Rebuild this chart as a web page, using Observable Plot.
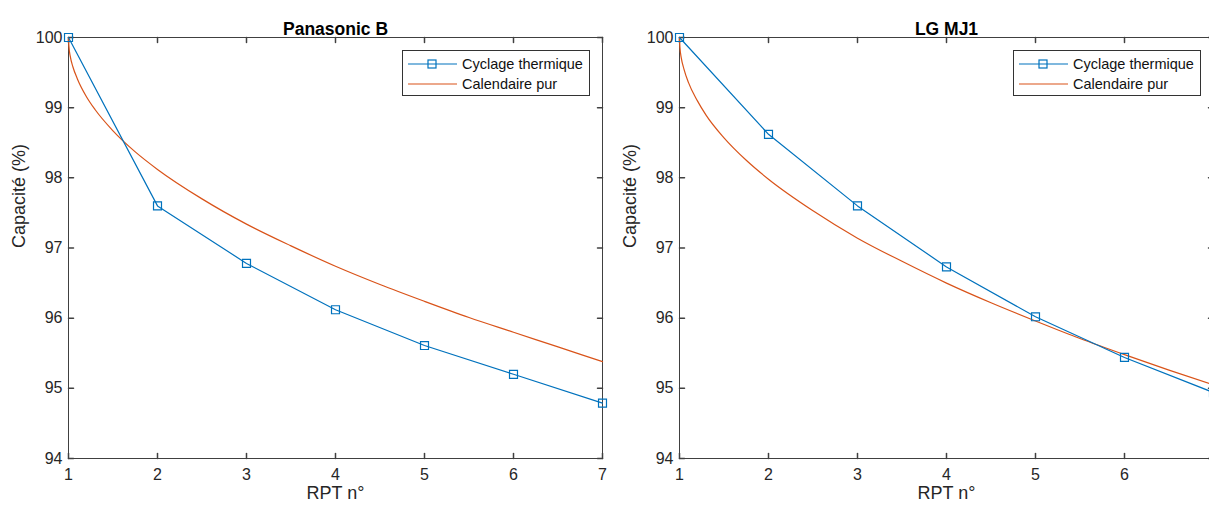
<!DOCTYPE html>
<html>
<head>
<meta charset="utf-8">
<script src="https://cdn.jsdelivr.net/npm/d3@7"></script>
<script src="https://cdn.jsdelivr.net/npm/@observablehq/plot@0.6"></script>
<style>
  html, body { margin: 0; padding: 0; background: #fff; }
  #fig { position: relative; width: 1209px; height: 506px; overflow: hidden; font-family: "Liberation Sans", Arial, Helvetica, sans-serif; }
  .panel { position: absolute; top: 0; }
  .legend { position: absolute; background: #fff; border: 1px solid #333; box-sizing: border-box; font-size: 14.5px; color: #111; }
  .legend .row { position: absolute; left: 0; height: 20px; display: flex; align-items: center; }
  .legend svg { display: block; }
  .legend span { margin-left: 3px; white-space: nowrap; }
</style>
</head>
<body>
<div id="fig"></div>
<script>
// ---------- data ----------
const rpt = [1, 2, 3, 4, 5, 6, 7];
const panaCyclage = [100, 97.6, 96.78, 96.12, 95.61, 95.2, 94.79];
const lgCyclage = [100, 98.62, 97.6, 96.73, 96.02, 95.44, 94.94];

const calT = [1, 1.005, 1.02, 1.05, 1.1, 1.2, 1.3, 1.5, 1.75, 2, 2.5, 3, 3.5, 4, 4.5, 5, 5.5, 6, 6.5, 7];
const panaCalendaire = [100, 99.87, 99.73, 99.58, 99.41, 99.16, 98.97, 98.67, 98.37, 98.12, 97.70, 97.34, 97.03, 96.74, 96.48, 96.24, 96.01, 95.80, 95.59, 95.38];
const lgCalendaire = [100, 99.86, 99.71, 99.55, 99.36, 99.10, 98.89, 98.57, 98.25, 97.98, 97.53, 97.14, 96.81, 96.50, 96.22, 95.96, 95.71, 95.48, 95.26, 95.05];

const xTicks = [1, 2, 3, 4, 5, 6, 7];
const yTicks = [94, 95, 96, 97, 98, 99, 100];
const titles = ["Panasonic B", "LG MJ1"];
const seriesNames = ["Cyclage thermique", "Calendaire pur"];
const xLabel = "RPT n°";
const yLabel = "Capacité (%)";

const blue = "#0072BD";
const orange = "#D95319";
const axisColor = "#404040";
const textColor = "#262626";

const tickLine = { draw(context, l) { context.moveTo(0, 0); context.lineTo(0, -l); } };

function panel(title, cyc, cal, opts) {
  const cycData = rpt.map((x, i) => ({ x, y: cyc[i] }));
  const calData = calT.map((x, i) => ({ x, y: cal[i] }));
  return Plot.plot({
    width: opts.width, height: 506,
    marginLeft: opts.marginLeft, marginRight: opts.marginRight, marginTop: 37, marginBottom: 48,
    style: { fontFamily: '"Liberation Sans", Arial, Helvetica, sans-serif', color: textColor, background: "transparent", overflow: "visible" },
    x: { domain: [1, 7] },
    y: { domain: [94, 100] },
    marks: [
      Plot.frame({ stroke: axisColor, strokeWidth: 1 }),
      // inward ticks on all four sides
      Plot.vector(xTicks, { x: d => d, frameAnchor: "bottom", anchor: "start", length: 5, rotate: 0, shape: tickLine, stroke: axisColor }),
      Plot.vector(xTicks, { x: d => d, frameAnchor: "top", anchor: "start", length: 5, rotate: 180, shape: tickLine, stroke: axisColor }),
      Plot.vector(yTicks, { y: d => d, frameAnchor: "left", anchor: "start", length: 5, rotate: 90, shape: tickLine, stroke: axisColor }),
      Plot.vector(yTicks, { y: d => d, frameAnchor: "right", anchor: "start", length: 5, rotate: -90, shape: tickLine, stroke: axisColor }),
      Plot.axisX({ ticks: xTicks, tickSize: 0, tickPadding: 10, label: null, fontSize: 16, tickFormat: d => String(d) }),
      Plot.axisY({ ticks: yTicks, tickSize: 0, tickPadding: 6, label: null, fontSize: 16, tickFormat: d => String(d) }),
      Plot.text([xLabel], { frameAnchor: "bottom", dy: 40, fontSize: 18, fill: textColor }),
      Plot.text([yLabel], { frameAnchor: "left", dx: -49, rotate: -90, fontSize: 18, fill: textColor }),
      Plot.text([title], { frameAnchor: "top", dy: -15, fontSize: 17.5, fontWeight: "bold", fill: "#000" }),
      Plot.line(calData, { x: "x", y: "y", stroke: orange, strokeWidth: 1.2, curve: "monotone-x" }),
      Plot.line(cycData, { x: "x", y: "y", stroke: blue, strokeWidth: 1.2 }),
      Plot.dot(cycData, { x: "x", y: "y", symbol: "square", r: 4.5, stroke: blue, fill: "none", strokeWidth: 1.2 })
    ]
  });
}

function legend(left, top) {
  const d = document.createElement("div");
  d.className = "legend";
  d.style.left = left + "px";
  d.style.top = top + "px";
  d.style.width = "188px";
  d.style.height = "46px";
  const rows = [
    { name: seriesNames[0], color: blue, marker: true, top: 3 },
    { name: seriesNames[1], color: orange, marker: false, top: 23 }
  ];
  rows.forEach(r => {
    const row = document.createElement("div");
    row.className = "row";
    row.style.top = r.top + "px";
    row.innerHTML = `<svg width="56" height="20"><line x1="5" x2="54" y1="10" y2="10" stroke="${r.color}" stroke-width="1.2"/>` +
      (r.marker ? `<rect x="25" y="6" width="8" height="8" fill="none" stroke="${r.color}" stroke-width="1.2"/>` : "") +
      `</svg><span>${r.name}</span>`;
    d.appendChild(row);
  });
  return d;
}

const fig = document.getElementById("fig");
const p1 = panel(titles[0], panaCyclage, panaCalendaire, { width: 605, marginLeft: 68, marginRight: 3 });
p1.classList.add("panel"); p1.style.left = "0px";
const p2 = panel(titles[1], lgCyclage, lgCalendaire, { width: 610, marginLeft: 74, marginRight: 2 });
p2.classList.add("panel"); p2.style.left = "605px";
fig.appendChild(p1);
fig.appendChild(p2);
fig.appendChild(legend(402, 50));
fig.appendChild(legend(1013, 50));
</script>
</body>
</html>
